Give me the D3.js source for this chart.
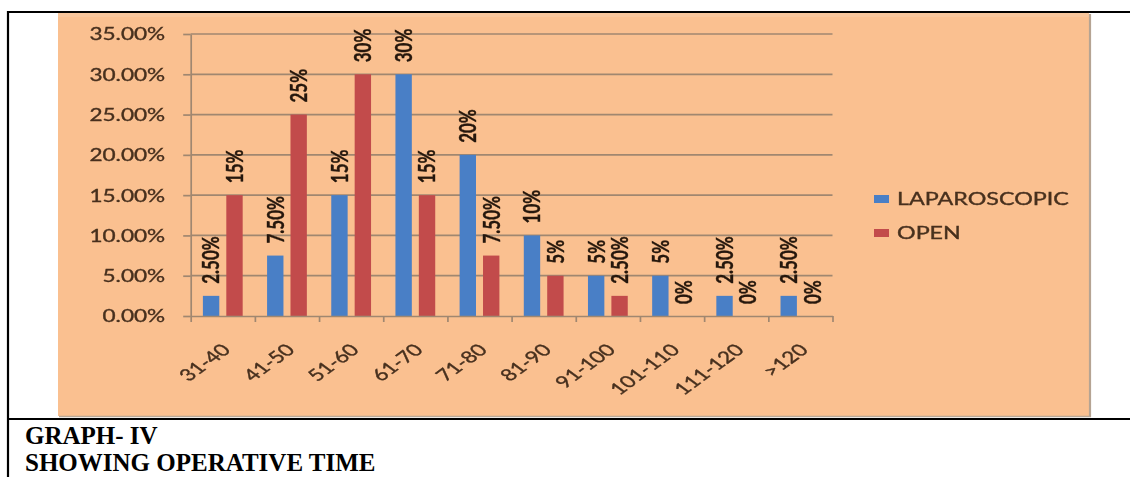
<!DOCTYPE html>
<html>
<head>
<meta charset="utf-8">
<script src="https://cdn.jsdelivr.net/npm/d3@7"></script>
<style>
  html, body { margin: 0; padding: 0; background: #ffffff; }
  svg { display: block; }
</style>
</head>
<body>
<svg id="chart" width="1130" height="477"></svg>
<script>
// Operative time distribution (minutes) for the two surgical groups
const categories = ["31-40", "41-50", "51-60", "61-70", "71-80", "81-90", "91-100", "101-110", "111-120", ">120"];
const seriesNames = ["LAPAROSCOPIC", "OPEN"];
const laparoscopic = [2.5, 7.5, 15, 30, 20, 10, 5, 5, 2.5, 2.5];
const open = [15, 25, 30, 15, 7.5, 5, 2.5, 0, 0, 0];
const yTicks = [0, 5, 10, 15, 20, 25, 30, 35];
const titleLines = ["GRAPH- IV", "SHOWING OPERATIVE TIME"];

const seriesValues = [laparoscopic, open];
const seriesColors = ["#4a7fc6", "#c24c4c"];

// Value label text, e.g. 2.5 -> "2.50%", 15 -> "15%"
const valueLabel = v => Number.isInteger(v) ? v + "%" : v.toFixed(2) + "%";
const tickLabel = v => d3.format(".2f")(v) + "%";

// The chart text is drawn horizontally widened
const SX = 1.37;
const sansFont = "Lato, 'Open Sans', 'DejaVu Sans', sans-serif";
const textColor = "#47301f";

const svg = d3.select("#chart");

const defs = svg.append("defs");
defs.append("filter").attr("id", "soft")
  .attr("x", "-2%").attr("y", "-2%").attr("width", "104%").attr("height", "104%")
  .append("feGaussianBlur").attr("stdDeviation", 0.55);

// ---- page frame (table cell lines) ----
const frame = svg.append("g").attr("stroke", "#000").attr("stroke-width", 2.2);
frame.append("line").attr("x1", 7).attr("x2", 1130).attr("y1", 12).attr("y2", 12);
frame.append("line").attr("x1", 8).attr("x2", 8).attr("y1", 11).attr("y2", 477);
frame.append("line").attr("x1", 7).attr("x2", 1130).attr("y1", 419).attr("y2", 419);

// ---- chart area ----
const chart = svg.append("g").attr("filter", "url(#soft)");

chart.append("rect")
  .attr("x", 58).attr("y", 13)
  .attr("width", 1031).attr("height", 403)
  .attr("fill", "#fac090");
chart.append("rect")
  .attr("x", 58).attr("y", 13)
  .attr("width", 1031).attr("height", 4)
  .attr("fill", "#f8c69c");
chart.append("line")
  .attr("x1", 1090).attr("x2", 1090).attr("y1", 14).attr("y2", 417)
  .attr("stroke", "#b5a493").attr("stroke-width", 2.2);
chart.append("line")
  .attr("x1", 59).attr("x2", 1091).attr("y1", 416.5).attr("y2", 416.5)
  .attr("stroke", "#b9a795").attr("stroke-width", 1.6);

const plot = { left: 190.7, right: 832.5, top: 34, bottom: 316 };

const y = d3.scaleLinear().domain([0, 35]).range([plot.bottom, plot.top]);
const x0 = d3.scaleBand().domain(categories).range([plot.left, plot.right]).padding(0);
const bw = x0.bandwidth();
const x1 = d3.scaleBand().domain(seriesNames)
  .range([bw * 0.19, bw * 0.81]).paddingInner(0.3);
const xb = d3.scaleLinear().domain([0, categories.length]).range([plot.left, plot.right]);

const gridColor = "#a08770";

// horizontal gridlines
chart.append("g").selectAll("line")
  .data(yTicks.filter(t => t > 0))
  .join("line")
  .attr("x1", plot.left).attr("x2", plot.right)
  .attr("y1", d => y(d)).attr("y2", d => y(d))
  .attr("stroke", gridColor).attr("stroke-width", 1.7);

// y axis with tick labels
const yAxis = chart.append("g")
  .attr("transform", `translate(${plot.left},0)`)
  .call(d3.axisLeft(y).tickValues(yTicks).tickSize(7.5).tickSizeOuter(0).tickFormat(tickLabel));
yAxis.select(".domain").attr("stroke", gridColor).attr("stroke-width", 1.7);
yAxis.selectAll(".tick line").attr("stroke", gridColor).attr("stroke-width", 1.7);
yAxis.selectAll(".tick text")
  .attr("x", 0).attr("dy", "0.36em")
  .attr("transform", `translate(-25.5,0) scale(${SX},1)`)
  .attr("text-anchor", "end")
  .attr("fill", textColor)
  .attr("stroke", textColor).attr("stroke-width", 0.35)
  .style("font-family", sansFont)
  .style("font-size", "16.5px");

// bars
const groups = chart.append("g").selectAll("g")
  .data(categories)
  .join("g")
  .attr("transform", d => `translate(${x0(d)},0)`);

groups.selectAll("rect")
  .data((c, i) => seriesNames.map((s, k) => ({ s, k, v: seriesValues[k][i] })))
  .join("rect")
  .attr("x", d => x1(d.s))
  .attr("width", x1.bandwidth())
  .attr("y", d => y(d.v))
  .attr("height", d => y(0) - y(d.v))
  .attr("fill", d => seriesColors[d.k]);

// rotated value labels above each bar
groups.selectAll("text")
  .data((c, i) => seriesNames.map((s, k) => ({ s, k, v: seriesValues[k][i] })))
  .join("text")
  .attr("transform", d => `translate(${x1(d.s) + x1.bandwidth() / 2},${y(d.v) - 12}) scale(${SX},1) rotate(-90)`)
  .attr("dy", "0.36em")
  .attr("text-anchor", "start")
  .attr("fill", "#25170b")
  .attr("stroke", "#25170b").attr("stroke-width", 0.3)
  .style("font-family", sansFont)
  .style("font-weight", "700")
  .style("font-size", "17px")
  .text(d => valueLabel(d.v));

// category axis: baseline with ticks at category boundaries
const xAxis = chart.append("g")
  .attr("transform", `translate(0,${plot.bottom})`)
  .call(d3.axisBottom(xb).ticks(categories.length).tickSize(6).tickSizeOuter(0).tickFormat(""));
xAxis.select(".domain").attr("stroke", gridColor).attr("stroke-width", 1.7);
xAxis.selectAll(".tick line").attr("stroke", gridColor).attr("stroke-width", 1.7);

// slanted category labels
chart.append("g").selectAll("text")
  .data(categories)
  .join("text")
  .attr("transform", d => `translate(${x0(d) + bw / 2 + 9},${plot.bottom + 35}) scale(${SX},1) rotate(-45)`)
  .attr("text-anchor", "end")
  .attr("fill", textColor)
  .attr("stroke", textColor).attr("stroke-width", 0.35)
  .style("font-family", sansFont)
  .style("font-size", "16.5px")
  .text(d => d);

// legend
const legend = chart.append("g").selectAll("g")
  .data(seriesNames)
  .join("g")
  .attr("transform", (d, i) => `translate(874,${195 + i * 34})`);
legend.append("rect")
  .attr("width", 15).attr("height", 8)
  .attr("fill", (d, i) => seriesColors[i]);
legend.append("text")
  .attr("transform", `translate(23,4) scale(${SX},1)`)
  .attr("dy", "0.36em")
  .attr("fill", textColor)
  .attr("stroke", textColor).attr("stroke-width", 0.35)
  .style("font-family", sansFont)
  .style("font-size", "17px")
  .text(d => d);

// caption below the chart
svg.append("g").selectAll("text")
  .data(titleLines)
  .join("text")
  .attr("x", 25)
  .attr("y", (d, i) => 444 + i * 27)
  .attr("fill", "#000")
  .style("font-family", "'Liberation Serif', 'Times New Roman', serif")
  .style("font-weight", "700")
  .style("font-size", "25px")
  .text(d => d);
</script>
</body>
</html>
